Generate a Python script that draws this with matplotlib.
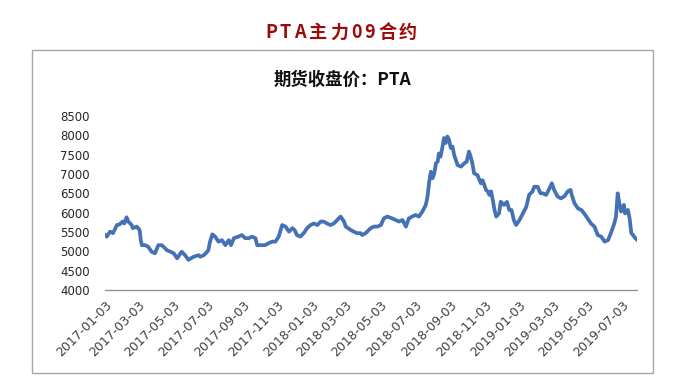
import matplotlib
matplotlib.use("Agg")
import matplotlib.pyplot as plt
from matplotlib.patches import Rectangle
import pandas as pd

main_title = "PTA主力09合约"
chart_title = "期货收盘价：PTA"

dates = [
    "2017-01-03", "2017-01-06", "2017-01-12", "2017-01-17", "2017-01-24", "2017-01-29",
    "2017-02-03", "2017-02-06", "2017-02-10", "2017-02-13", "2017-02-19", "2017-02-21",
    "2017-02-28", "2017-03-05", "2017-03-07", "2017-03-09", "2017-03-15", "2017-03-20",
    "2017-03-26", "2017-04-01", "2017-04-07", "2017-04-13", "2017-04-16", "2017-04-22",
    "2017-04-28", "2017-05-04", "2017-05-10", "2017-05-18", "2017-05-24", "2017-05-30",
    "2017-06-08", "2017-06-17", "2017-06-20", "2017-06-26", "2017-07-02", "2017-07-04",
    "2017-07-07", "2017-07-11", "2017-07-16", "2017-07-22", "2017-07-28", "2017-08-03",
    "2017-08-09", "2017-08-13", "2017-08-18", "2017-08-26", "2017-09-01", "2017-09-07",
    "2017-09-13", "2017-09-19", "2017-09-25", "2017-09-28", "2017-10-07", "2017-10-12",
    "2017-10-18", "2017-10-24", "2017-10-30", "2017-11-05", "2017-11-11", "2017-11-17",
    "2017-11-23", "2017-11-29", "2017-12-03", "2017-12-07", "2017-12-13", "2017-12-19",
    "2017-12-25", "2017-12-31", "2018-01-06", "2018-01-12", "2018-01-18", "2018-01-23",
    "2018-01-29", "2018-02-04", "2018-02-10", "2018-02-16", "2018-02-22", "2018-02-28",
    "2018-03-03", "2018-03-12", "2018-03-17", "2018-03-23", "2018-03-29", "2018-04-01",
    "2018-04-07", "2018-04-16", "2018-04-22", "2018-04-28", "2018-05-04", "2018-05-09",
    "2018-05-15", "2018-05-24", "2018-05-30", "2018-06-05", "2018-06-11", "2018-06-17",
    "2018-06-22", "2018-06-28", "2018-07-04", "2018-07-10", "2018-07-16", "2018-07-22",
    "2018-07-25", "2018-07-28", "2018-07-31", "2018-08-03", "2018-08-06", "2018-08-09",
    "2018-08-12", "2018-08-14", "2018-08-17", "2018-08-20", "2018-08-23", "2018-08-26",
    "2018-08-29", "2018-09-01", "2018-09-04", "2018-09-07", "2018-09-10", "2018-09-13",
    "2018-09-16", "2018-09-22", "2018-09-28", "2018-10-02", "2018-10-06", "2018-10-09",
    "2018-10-12", "2018-10-15", "2018-10-21", "2018-10-27", "2018-10-30", "2018-11-02",
    "2018-11-05", "2018-11-08", "2018-11-11", "2018-11-14", "2018-11-17", "2018-11-20",
    "2018-11-23", "2018-11-28", "2018-12-01", "2018-12-07", "2018-12-12", "2018-12-16",
    "2018-12-20", "2018-12-24", "2018-12-28", "2019-01-03", "2019-01-09", "2019-01-15",
    "2019-01-20", "2019-01-26", "2019-01-29", "2019-02-04", "2019-02-09", "2019-02-13",
    "2019-02-19", "2019-02-25", "2019-03-01", "2019-03-05", "2019-03-11", "2019-03-17",
    "2019-03-23", "2019-03-29", "2019-04-03", "2019-04-05", "2019-04-10", "2019-04-16",
    "2019-04-22", "2019-04-27", "2019-05-03", "2019-05-09", "2019-05-15", "2019-05-21",
    "2019-05-27", "2019-06-02", "2019-06-08", "2019-06-14", "2019-06-19", "2019-06-22",
    "2019-06-25", "2019-06-28", "2019-07-01", "2019-07-06", "2019-07-08", "2019-07-13",
    "2019-07-16", "2019-07-19", "2019-07-22", "2019-07-26", "2019-07-29",
]

prices = [
    5420, 5380, 5510, 5470, 5680, 5700,
    5770, 5720, 5880, 5770, 5680, 5600,
    5640, 5550, 5290, 5160, 5160, 5120,
    4990, 4950, 5160, 5160, 5120, 5030,
    4990, 4950, 4820, 4990, 4900, 4780,
    4860, 4900, 4860, 4900, 4990, 5030,
    5250, 5440, 5380, 5250, 5290, 5160,
    5290, 5160, 5340, 5380, 5420, 5340,
    5340, 5380, 5340, 5160, 5160, 5160,
    5210, 5250, 5250, 5380, 5680, 5640,
    5510, 5600, 5550, 5420, 5380, 5470,
    5600, 5680, 5720, 5680, 5770, 5770,
    5720, 5680, 5720, 5810, 5900, 5770,
    5640, 5550, 5510, 5470, 5470, 5420,
    5470, 5600, 5640, 5640, 5680, 5850,
    5900, 5850, 5810, 5770, 5810, 5640,
    5850, 5900, 5940, 5900, 6030, 6200,
    6410, 6800, 7060, 6890, 7020, 7280,
    7320, 7530, 7450, 7670, 7930, 7800,
    7970, 7880, 7670, 7710, 7490, 7360,
    7230, 7190, 7280, 7320, 7580, 7450,
    7280, 7020, 6970, 6760, 6840, 6720,
    6590, 6550, 6460, 6550, 6330, 6070,
    5900, 5980, 6280, 6200, 6280, 6070,
    6070, 5810, 5680, 5810, 5980, 6150,
    6460, 6550, 6670, 6670, 6500, 6500,
    6460, 6630, 6760, 6590, 6420, 6370,
    6420, 6550, 6590, 6460, 6240, 6110,
    6070, 5980, 5850, 5720, 5640, 5420,
    5380, 5250, 5290, 5510, 5720, 5900,
    6500, 6240, 6030, 6200, 5980, 6070,
    5850, 5470, 5420, 5340, 5300,
]

x_tick_labels = [
    "2017-01-03", "2017-03-03", "2017-05-03", "2017-07-03", "2017-09-03",
    "2017-11-03", "2018-01-03", "2018-03-03", "2018-05-03", "2018-07-03",
    "2018-09-03", "2018-11-03", "2019-01-03", "2019-03-03", "2019-05-03",
    "2019-07-03",
]
y_ticks = [4000, 4500, 5000, 5500, 6000, 6500, 7000, 7500, 8000, 8500]

W, H = 675, 390
fig = plt.figure(figsize=(W / 100, H / 100), dpi=100)
fig.patch.set_facecolor("white")

# outer frame
fig.patches.append(Rectangle((32 / W, 1 - 373 / H), (653 - 32) / W, (373 - 50) / H,
                             transform=fig.transFigure, fill=False,
                             edgecolor="#a6a6a6", linewidth=1.0))

cjk = ["Noto Sans CJK SC", "DejaVu Sans"]

# letter-spaced main title, centred around x=341 px
renderer = fig.canvas.get_renderer()
spacing = 3.0  # px between characters
chars = [fig.text(0, 1 - 32 / H, ch, ha="left", va="center", fontsize=13,
                  fontweight="bold", color="#9c0a0a", family=cjk)
         for ch in main_title]
widths = [t.get_window_extent(renderer).width for t in chars]
total = sum(widths) + spacing * (len(chars) - 1)
cur = 341 - total / 2
for t, w in zip(chars, widths):
    t.set_x(cur / W)
    cur += w + spacing

fig.text(342 / W, 1 - 80 / H, chart_title, ha="center", va="center",
         fontsize=12.5, fontweight="bold", color="#111111", family=cjk)

ax = fig.add_axes([105 / W, 1 - 290 / H, (637 - 105) / W, (290 - 116) / H])
x = pd.to_datetime(dates)
ax.plot(x, prices, color="#4472b4", linewidth=2.7, solid_joinstyle="round")

ax.set_ylim(4000, 8500)
ax.set_xlim(x[0], x[-1])
ax.set_yticks(y_ticks)
ax.set_yticklabels([str(v) for v in y_ticks])
ax.set_xticks(pd.to_datetime(x_tick_labels))
ax.set_xticklabels(x_tick_labels, rotation=45, ha="right", va="top",
                   rotation_mode="anchor")

for s in ["top", "right", "left"]:
    ax.spines[s].set_visible(False)
ax.spines["bottom"].set_color("#8c8c8c")
ax.spines["bottom"].set_linewidth(0.9)
ax.tick_params(axis="both", length=0)
ax.tick_params(axis="y", pad=11, labelsize=8.5, labelcolor="#262626")
ax.tick_params(axis="x", pad=6, labelsize=9, labelcolor="#404040")
ax.set_facecolor("white")

fig.savefig("out.png", dpi=100, facecolor="white")
